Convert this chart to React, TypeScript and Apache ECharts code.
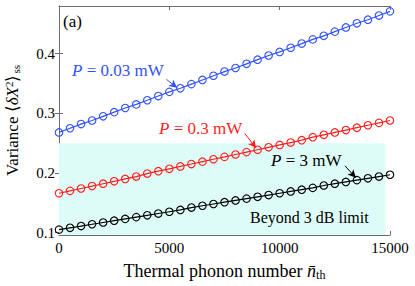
import React, { useEffect, useRef } from "react";
import * as echarts from "echarts";

const nPhonon = [0, 500, 1000, 1500, 2000, 2500, 3000, 3500, 4000, 4500, 5000, 5500, 6000, 6500, 7000, 7500, 8000, 8500, 9000, 9500, 10000, 10500, 11000, 11500, 12000, 12500, 13000, 13500, 14000, 14500, 15000];
const var003 = [0.268, 0.275, 0.282, 0.288, 0.295, 0.302, 0.309, 0.315, 0.322, 0.329, 0.336, 0.342, 0.349, 0.356, 0.363, 0.370, 0.376, 0.383, 0.390, 0.397, 0.403, 0.410, 0.417, 0.424, 0.430, 0.437, 0.444, 0.451, 0.457, 0.464, 0.471];
const var03 = [0.166, 0.170, 0.174, 0.178, 0.182, 0.186, 0.190, 0.194, 0.199, 0.203, 0.207, 0.211, 0.215, 0.219, 0.223, 0.227, 0.231, 0.235, 0.239, 0.243, 0.247, 0.251, 0.255, 0.260, 0.264, 0.268, 0.272, 0.276, 0.280, 0.284, 0.288];
const var3 = [0.105, 0.108, 0.111, 0.114, 0.117, 0.120, 0.123, 0.126, 0.129, 0.132, 0.135, 0.138, 0.142, 0.145, 0.148, 0.151, 0.154, 0.157, 0.160, 0.163, 0.166, 0.169, 0.172, 0.175, 0.179, 0.182, 0.185, 0.188, 0.191, 0.194, 0.197];
const yTicks = [0.1, 0.2, 0.3, 0.4];
const limitVariance = 0.25;

const FONT = "Liberation Serif";
const AXIS = "#6e6e6e";

export default function App() {
  const ref = useRef<HTMLDivElement>(null);
  useEffect(() => {
    const chart = echarts.init(ref.current!, null, { renderer: "svg" });
    const mk = (name: string, data: number[], color: string, arrow: any, extra: any = {}) => ({
      name,
      type: "line",
      data: nPhonon.map((x, i) => [x, data[i]]),
      symbol: "circle",
      symbolSize: 7.5,
      lineStyle: { color, width: 1.2 },
      itemStyle: { color: "rgba(0,0,0,0)", borderColor: color, borderWidth: 1.1 },
      z: 3,
      markLine: {
        silent: true,
        symbol: ["none", "arrow"],
        symbolSize: [6, 8],
        label: { show: false },
        lineStyle: { color, width: 1, type: "solid" },
        data: [[{ coord: arrow[0] }, { coord: arrow[1] }]],
      },
      ...extra,
    });
    const tickCommon = { inside: true, length: 4, lineStyle: { color: AXIS } };
    const label = (x: number, y: number, pre: string, rest: string, color: string) => ({
      type: "text", x, y,
      style: {
        text: `{i|${pre}}{r|${rest}}`,
        rich: {
          i: { fontStyle: "italic", fontFamily: FONT, fontSize: 17, fill: color, color },
          r: { fontFamily: FONT, fontSize: 17, fill: color, color },
        },
      },
      z: 10,
    });
    chart.setOption({
      animation: false,
      grid: { left: 59, right: 25, top: 6, bottom: 51, containLabel: false, outerBoundsMode: "none" },
      xAxis: [
        {
          type: "value", min: 0, max: 15000, interval: 5000, position: "bottom",
          axisLine: { lineStyle: { color: AXIS } },
          axisTick: tickCommon,
          splitLine: { show: false },
          axisLabel: { color: "#000", fontFamily: FONT, fontSize: 15, margin: 5, formatter: (v: number) => String(v) },
          name: "{t|Thermal phonon number }{n|n̄}{s|th}",
          nameLocation: "middle",
          nameGap: 26,
          nameTextStyle: {
            rich: {
              t: { fontFamily: FONT, fontSize: 18, color: "#000" },
              n: { fontFamily: FONT, fontSize: 18, fontStyle: "italic", color: "#000" },
              s: { fontFamily: FONT, fontSize: 12, color: "#000", padding: [8, 0, 0, 0] },
            },
          },
        },
        {
          type: "value", min: 0, max: 15000, interval: 5000, position: "top",
          axisLine: { lineStyle: { color: AXIS } },
          axisTick: tickCommon,
          splitLine: { show: false },
          axisLabel: { show: false },
        },
      ],
      yAxis: [
        {
          type: "value", min: 0.096, max: 0.48, position: "left",
          axisLine: { show: true, lineStyle: { color: AXIS } },
          axisTick: { ...tickCommon, customValues: yTicks },
          splitLine: { show: false },
          axisLabel: { customValues: yTicks, color: "#000", fontFamily: FONT, fontSize: 15, margin: 4, formatter: (v: number) => v.toFixed(1) },
          name: "{t|Variance ⟨}{i|δX}{p|2}{t|⟩}{s|ss}",
          nameLocation: "middle",
          nameGap: 38,
          nameRotate: 90,
          nameTextStyle: {
            rich: {
              t: { fontFamily: FONT, fontSize: 17, color: "#000" },
              i: { fontFamily: FONT, fontSize: 17, fontStyle: "italic", color: "#000" },
              p: { fontFamily: FONT, fontSize: 11, color: "#000", padding: [0, 0, 7, 0] },
              s: { fontFamily: FONT, fontSize: 11, color: "#000", padding: [7, 0, 0, 1] },
            },
          },
        },
        {
          type: "value", min: 0.096, max: 0.48, position: "right",
          axisLine: { show: true, lineStyle: { color: AXIS } },
          axisTick: { ...tickCommon, customValues: yTicks },
          splitLine: { show: false },
          axisLabel: { show: false },
        },
      ],
      series: [
        mk("P = 0.03 mW", var003, "#3352ff", [[4870, 0.357], [5350, 0.343]], {
          markArea: {
            silent: true,
            itemStyle: { color: "#defcf7" },
            data: [[{ xAxis: 0, yAxis: 0.096 }, { xAxis: 14800, yAxis: limitVariance }]],
          },
        }),
        mk("P = 0.3 mW", var03, "#ff1f1f", [[8420, 0.266], [8930, 0.242]]),
        mk("P = 3 mW", var3, "#000000", [[12960, 0.212], [13450, 0.192]]),
      ],
      graphic: [
        { type: "text", x: 63, y: 13, z: 10, style: { text: "(a)", fontFamily: FONT, fontSize: 17, fill: "#000" } },
        label(72, 62, "P", " = 0.03 mW", "#3352ff"),
        label(159, 120, "P", " = 0.3 mW", "#ff1f1f"),
        label(271, 152, "P", " = 3 mW", "#000000"),
        { type: "text", x: 250, y: 209, z: 10, style: { text: "Beyond 3 dB limit", fontFamily: FONT, fontSize: 16, fill: "#000" } },
      ],
    });
    return () => chart.dispose();
  }, []);
  return <div ref={ref} style={{ position: "absolute", left: 0, top: 0, width: 415, height: 286 }} />;
}
